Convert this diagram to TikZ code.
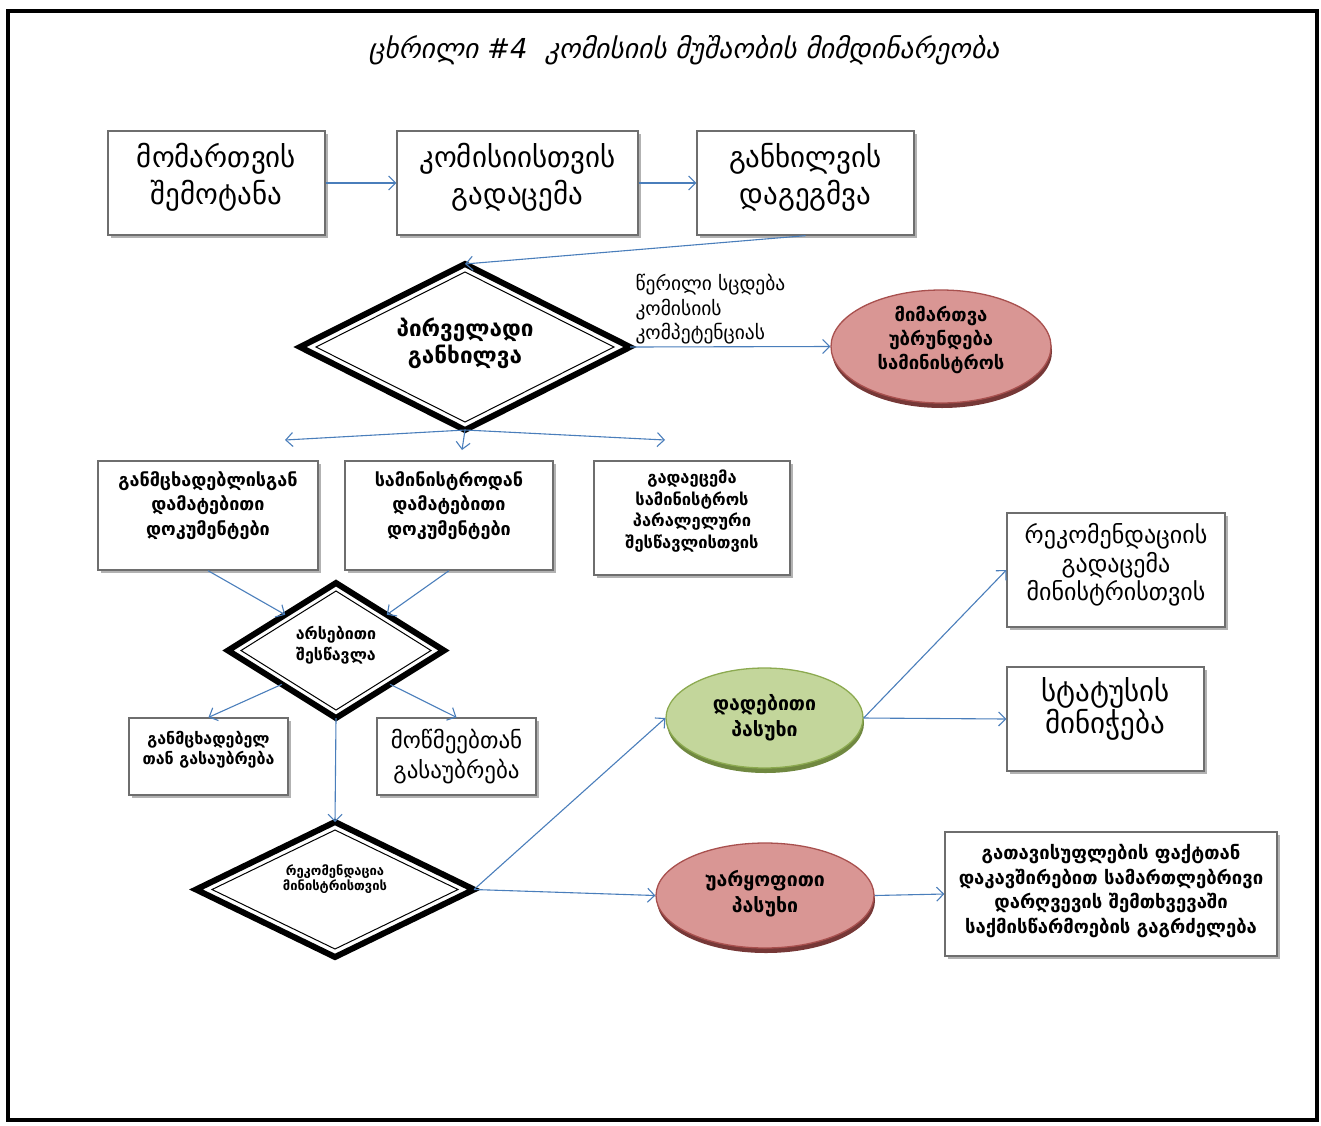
\documentclass[tikz,border=0pt]{standalone}
\usepackage{fontspec}
\setmainfont{DejaVu Sans}
\usetikzlibrary{shapes.geometric, arrows.meta, shadows, calc}
\definecolor{linkblue}{HTML}{4A7EBB}
\definecolor{boxgray}{HTML}{6E6E6E}
\definecolor{redfill}{HTML}{D99694}
\definecolor{redline}{HTML}{A8504E}
\definecolor{greenfill}{HTML}{C3D69B}
\definecolor{greenline}{HTML}{8CAA50}
\newcommand{\gsize}[2]{\fontsize{#1}{#2}\selectfont}

\begin{document}
\begin{tikzpicture}[
    x=1pt, y=-1pt,
    box/.style={draw=boxgray, line width=1.3pt, fill=white,
        inner sep=0pt, drop shadow={shadow xshift=3pt, shadow yshift=-3pt,
        fill=black!30, opacity=1}},
    dia/.style={diamond, draw=black, line width=6pt, fill=white,
        inner sep=0pt, outer sep=0pt},
    oval/.style={ellipse, line width=1.3pt, inner sep=0pt},
    redoval/.style={oval, draw=redline, fill=redfill, drop shadow={shadow
        xshift=1pt, shadow yshift=-5pt, fill=redline!70!black, opacity=1}},
    greenoval/.style={oval, draw=greenline, fill=greenfill, drop shadow={shadow
        xshift=1pt, shadow yshift=-5pt, fill=greenline!80!black, opacity=1}},
    txt/.style={align=center, inner sep=0pt},
    link/.style={draw=linkblue, line width=1.1pt,
        -{Straight Barb[length=7pt, width=14pt]}},
    every node/.style={color=black}
    ]
    \useasboundingbox (0,0) rectangle (1321,1125);
    % frame
    \draw[line width=4pt] (8,11) rectangle (1317,1120);
    % title
    \node[font=\itshape\gsize{27.5}{32}] (title) at (684,50)
        {ცხრილი \#4\ \ კომისიის მუშაობის მიმდინარეობა};
    % top row
    \node[box, minimum width=217, minimum height=104] (a) at (216.5,183) {};
    \node[box, minimum width=241, minimum height=104] (b) at (517.5,183) {};
    \node[box, minimum width=217, minimum height=104] (c) at (805.5,183) {};
    \node[txt, font=\gsize{29}{37}] (at) at ([yshift=6pt]a.center)
        {მომართვის\\შემოტანა};
    \node[txt, font=\gsize{29}{37}] (bt) at ([yshift=6pt]b.center)
        {კომისიისთვის\\გადაცემა};
    \node[txt, font=\gsize{29}{37}] (ct) at ([yshift=6pt]c.center)
        {განხილვის\\დაგეგმვა};
    % first check
    \node[dia, minimum width=330, minimum height=166] (d1) at (465,347) {};
    \node[txt, font=\bfseries\gsize{22.5}{27}] (d1t) at ([yshift=4pt]d1.center)
        {პირველადი\\განხილვა};
    \node[redoval, minimum width=220, minimum height=113] (e1) at (941,346.5) {};
    \node[txt, font=\bfseries\gsize{18.5}{24}] (e1t) at ([yshift=7pt]e1.center)
        {მიმართვა\\უბრუნდება\\სამინისტროს};
    \node[anchor=north west, align=left, font=\gsize{19.5}{24.5}] (note)
        at (632,271) {წერილი სცდება\\კომისიის\\კომპეტენციას};
    % three ways
    \coordinate (s1) at (285,440);
    \coordinate (s2) at (462,450);
    \coordinate (s3) at (665,440);
    \node[box, minimum width=220, minimum height=109] (f) at (208,515.5) {};
    \node[box, minimum width=208, minimum height=109] (g) at (449,515.5) {};
    \node[box, minimum width=196, minimum height=114] (h) at (692,518) {};
    \node[txt, font=\bfseries\gsize{18}{24.5}] (ft)
        at ([yshift=10pt]f.center) {განმცხადებლისგან\\დამატებითი\\დოკუმენტები};
    \node[txt, font=\bfseries\gsize{18}{24.5}] (gt)
        at ([yshift=10pt]g.center) {სამინისტროდან\\დამატებითი\\დოკუმენტები};
    \node[txt, font=\bfseries\gsize{16.5}{21.7}] (ht)
        at ([yshift=7pt]h.center)
        {გადაეცემა\\სამინისტროს\\პარალელური\\შესწავლისთვის};
    % second check
    \node[dia, minimum width=216, minimum height=135] (d2) at (336,650.5) {};
    \node[txt, font=\bfseries\gsize{16}{21}] (d2t) at ([yshift=5pt]d2.center)
        {არსებითი\\შესწავლა};
    \node[box, minimum width=159, minimum height=77] (i) at (208.5,756.5) {};
    \node[box, minimum width=159, minimum height=77] (j) at (456.5,756.5) {};
    \node[txt, font=\bfseries\gsize{16}{20}] (it) at ([yshift=7pt]i.center)
        {განმცხადებელ\\თან გასაუბრება};
    \node[txt, font=\gsize{23}{30}] (jt) at (j.center) {მოწმეებთან\\გასაუბრება};
    % third check
    \node[dia, minimum width=278, minimum height=135] (d3) at (335,889.5) {};
    \node[txt, font=\bfseries\gsize{13}{15}] (d3t) at ([yshift=10pt]d3.center)
        {რეკომენდაცია\\მინისტრისთვის};
    \foreach \d/\hx/\vy in {d1/16/8, d2/13/8, d3/16/8}
        \draw[line width=1pt] ([yshift=-\vy pt]\d.north) -- ([xshift=-\hx pt]\d.east)
            -- ([yshift=\vy pt]\d.south) -- ([xshift=\hx pt]\d.west) -- cycle;
    % answers
    \node[greenoval, minimum width=197, minimum height=100] (e2) at (764.5,718) {};
    \node[redoval, minimum width=218, minimum height=105] (e3) at (765,895.5) {};
    \node[txt, font=\bfseries\gsize{19.5}{26}] (e2t) at (e2.center)
        {დადებითი\\პასუხი};
    \node[txt, font=\bfseries\gsize{19.5}{26}] (e3t) at ([yshift=2pt]e3.center)
        {უარყოფითი\\პასუხი};
    \node[box, minimum width=218, minimum height=114] (k) at (1116,570) {};
    \node[box, minimum width=197, minimum height=104] (l) at (1105.5,719) {};
    \node[box, minimum width=332, minimum height=124] (m) at (1111,894) {};
    \node[txt, font=\gsize{24}{28.5}] (kt) at ([yshift=5pt]k.center)
        {რეკომენდაციის\\გადაცემა\\მინისტრისთვის};
    \node[txt, font=\gsize{29}{32}] (lt) at ([yshift=10pt]l.center)
        {სტატუსის\\მინიჭება};
    \node[txt, font=\bfseries\gsize{18.5}{24.5}] (mt) at ([yshift=3pt]m.center)
        {გათავისუფლების ფაქტთან\\დაკავშირებით სამართლებრივი\\დარღვევის შემთხვევაში\\საქმისწარმოების გაგრძელება};
    % Connectors
    \draw[link] (a) -- (b);
    \draw[link] (b) -- (c);
    \draw[link] (c.south) -- (d1.north);
    \draw[link] (d1.east) -- (e1.west);
    \draw[link] (d1.south) -- (s1);
    \draw[link] (d1.south) -- (s2);
    \draw[link] (d1.south) -- (s3);
    \draw[link] (f.south) -- ($(d2.north)!0.47!(d2.west)$);
    \draw[link] (g.south) -- ($(d2.north)!0.47!(d2.east)$);
    \draw[link] ($(d2.south)!0.5!(d2.west)$) -- (i.north);
    \draw[link] ($(d2.south)!0.5!(d2.east)$) -- (j.north);
    \draw[link] (d2.south) -- (d3.north);
    \draw[link] (d3.east) -- (e2.west);
    \draw[link] (d3.east) -- (e3.west);
    \draw[link] (e2.east) -- (k.west);
    \draw[link] (e2.east) -- (l.west);
    \draw[link] (e3.east) -- (m.west);
\end{tikzpicture}
\end{document}
